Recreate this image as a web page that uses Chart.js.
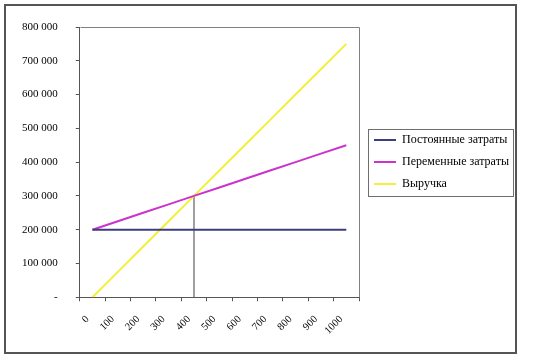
<!DOCTYPE html>
<html><head><meta charset="utf-8">
<script src="https://cdn.jsdelivr.net/npm/chart.js@4.4.0/dist/chart.umd.min.js"></script>
<style>
html,body{margin:0;padding:0;background:#fff;}
#wrap{position:relative;width:533px;height:360px;background:#fff;}
#frame{position:absolute;left:4px;top:4px;width:509px;height:346px;border:2px solid #555;pointer-events:none;}
canvas{position:absolute;left:0;top:0;}
</style></head><body>
<div id="wrap"><canvas id="c" width="533" height="360"></canvas><div id="frame"></div></div>
<script>
const categories = ['0','100','200','300','400','500','600','700','800','900','1000'];
const fixedCosts = [200000,200000,200000,200000,200000,200000,200000,200000,200000,200000,200000];
const variableCosts = [200000,225000,250000,275000,300000,325000,350000,375000,400000,425000,450000];
const revenue = [0,75000,150000,225000,300000,375000,450000,525000,600000,675000,750000];
const breakEvenQty = '400';
const breakEvenValue = 300000;
const seriesNames = ['Постоянные затраты','Переменные затраты','Выручка'];
const yMin = 0, yMax = 800000, yStep = 100000;

Chart.defaults.font.family = "'Liberation Serif', 'Times New Roman', serif";
Chart.defaults.color = '#000';

const fmt = v => v === 0 ? '-' : String(v).replace(/\B(?=(\d{3})+(?!\d))/g, ' ');

const decor = {
  id: 'decor',
  afterLayout(chart) {
    const lg = chart.legend;
    if (!lg) return;
    const h = lg.bottom - lg.top;
    lg.left = 364; lg.right = 364 + lg.width;
    lg.top = (324 - h) / 2; lg.bottom = lg.top + h;
  },
  afterDraw(chart) {
    const ctx = chart.ctx, a = chart.chartArea;
    ctx.save();
    ctx.strokeStyle = '#808080'; ctx.lineWidth = 1;
    ctx.beginPath();
    ctx.moveTo(Math.round(a.left) + 0.5, Math.round(a.top) + 0.5);
    ctx.lineTo(Math.round(a.right) + 0.5, Math.round(a.top) + 0.5);
    ctx.lineTo(Math.round(a.right) + 0.5, Math.round(a.bottom) + 0.5);
    ctx.stroke();
    const hb = chart.legend.legendHitBoxes;
    if (hb && hb.length) {
      const l = hb[0].left - 6, t = hb[0].top - 5;
      let r = 0; hb.forEach(b => { r = Math.max(r, b.left + b.width); });
      r += 4;
      const last = hb[hb.length - 1];
      const btm = last.top + last.height + 6;
      ctx.strokeStyle = '#6e6e6e';
      ctx.strokeRect(Math.round(l) + 0.5, Math.round(t) + 0.5, Math.round(r - l), Math.round(btm - t));
    }
    ctx.restore();
  }
};

new Chart(document.getElementById('c'), {
  type: 'line',
  data: {
    labels: categories,
    datasets: [
      { label: seriesNames[0], data: fixedCosts, borderColor: '#3c3c80', backgroundColor: '#3c3c80', borderWidth: 2, pointRadius: 0, tension: 0 },
      { label: seriesNames[1], data: variableCosts, borderColor: '#cc33cc', backgroundColor: '#cc33cc', borderWidth: 2, pointRadius: 0, tension: 0 },
      { label: seriesNames[2], data: revenue, borderColor: '#f3ef3a', backgroundColor: '#f3ef3a', borderWidth: 2, pointRadius: 0, tension: 0 },
      { label: 'break-even', data: [{x: breakEvenQty, y: yMin}, {x: breakEvenQty, y: breakEvenValue}], borderColor: '#404040', borderWidth: 1, pointRadius: 0, tension: 0 }
    ]
  },
  options: {
    responsive: false,
    animation: false,
    devicePixelRatio: 1,
    layout: { padding: { left: 4, top: 27, right: 174, bottom: 11 } },
    plugins: {
      tooltip: { enabled: false },
      legend: {
        position: 'chartArea',
        align: 'center',
        labels: {
          boxWidth: 22, boxHeight: 2, padding: 10,
          font: { size: 12 },
          color: '#000',
          generateLabels(chart) {
            return chart.data.datasets.slice(0, 3).map((ds, i) => ({
              text: ds.label, fillStyle: ds.borderColor, strokeStyle: ds.borderColor,
              lineWidth: 0, hidden: false, datasetIndex: i, fontColor: '#000'
            }));
          }
        }
      }
    },
    scales: {
      x: {
        type: 'category',
        offset: true,
        grid: { offset: true, drawOnChartArea: false, tickLength: 4, color: '#555', tickColor: '#555' },
        border: { color: '#555', width: 1 },
        ticks: { minRotation: 45, maxRotation: 45, padding: 12, labelOffset: -5, font: { size: 10.5 }, color: '#000', autoSkip: false }
      },
      y: {
        min: yMin, max: yMax,
        grid: { drawOnChartArea: false, tickLength: 4, color: '#555', tickColor: '#555' },
        border: { color: '#555', width: 1 },
        ticks: { stepSize: yStep, padding: 18, font: { size: 11 }, color: '#000', callback: fmt }
      }
    }
  },
  plugins: [decor]
});
</script>
</body></html>
